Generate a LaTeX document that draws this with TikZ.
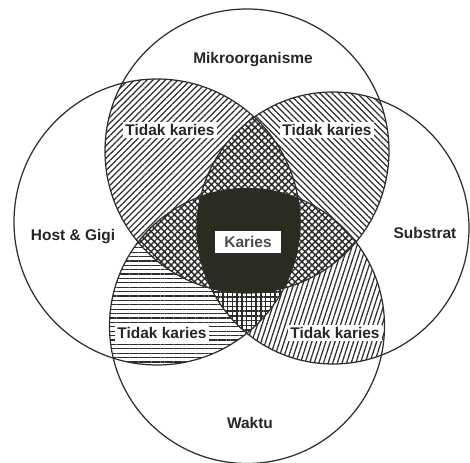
\documentclass[tikz,border=0pt]{standalone}
\usepackage{fontspec}
\setmainfont{Liberation Sans}
\usetikzlibrary{patterns.meta}
\definecolor{inkline}{RGB}{45,45,42}
\definecolor{darkcore}{RGB}{42,44,34}

\begin{document}
\begin{tikzpicture}[
  label/.style={font=\fontsize{8.8}{10}\selectfont\bfseries, text=black!85},
  tidak/.style={label, fill=white, inner sep=1.5pt},
  rim/.style={draw=inkline, line width=0.7pt},
  lines/.style={pattern={Lines[angle=#1,distance=2.5pt,line width=0.7pt]}, pattern color=inkline},
  hatch/.style={pattern={Hatch[angle=#1,distance=2.7pt,line width=0.85pt]}, pattern color=inkline}
]
\useasboundingbox (0,0) rectangle (9.4,9.26);
\coordinate (T) at (4.94,6.24);
\coordinate (B) at (4.94,2.74);
\coordinate (L) at (3.14,4.82);
\coordinate (R) at (6.66,4.70);
\def\rT{2.84} \def\rB{2.75} \def\rL{2.86} \def\rR{2.72}

% two circles
\begin{scope}\clip (T) circle (\rT); \fill[lines=45] (L) circle (\rL); \end{scope}
\begin{scope}\clip (T) circle (\rT); \fill[lines=-45] (R) circle (\rR); \end{scope}
\begin{scope}\clip (B) circle (\rB); \fill[lines=0] (L) circle (\rL); \end{scope}
\begin{scope}\clip (B) circle (\rB); \fill[lines=72] (R) circle (\rR); \end{scope}

% three circles
\begin{scope}\clip (T) circle (\rT); \clip (L) circle (\rL);
 \fill[white] (R) circle (\rR); \fill[hatch=45] (R) circle (\rR); \end{scope}
\begin{scope}\clip (T) circle (\rT); \clip (L) circle (\rL);
 \fill[white] (B) circle (\rB); \fill[hatch=45] (B) circle (\rB); \end{scope}
\begin{scope}\clip (T) circle (\rT); \clip (R) circle (\rR);
 \fill[white] (B) circle (\rB); \fill[hatch=45] (B) circle (\rB); \end{scope}
\begin{scope}\clip (L) circle (\rL); \clip (R) circle (\rR);
 \fill[white] (B) circle (\rB); \fill[hatch=0] (B) circle (\rB); \end{scope}

% all four
\begin{scope}\clip (T) circle (\rT); \clip (L) circle (\rL); \clip (R) circle (\rR);
 \fill[darkcore] (B) circle (\rB); \end{scope}

\foreach \c/\r in {T/\rT, B/\rB, L/\rL, R/\rR}
 \draw[rim] (\c) circle (\r);

\node[label] (mikro) at (5.06,8.06) {Mikroorganisme};
\node[label] (host) at (1.46,4.52) {Host \& Gigi};
\node[label] (substrat) at (8.50,4.60) {Substrat};
\node[label] (waktu) at (5.00,0.80) {Waktu};
\node[tidak] (tkul) at (3.40,6.66) {Tidak karies};
\node[tidak] (tkur) at (6.54,6.66) {Tidak karies};
\node[tidak] (tkll) at (3.24,2.60) {Tidak karies};
\node[tidak] (tklr) at (6.70,2.60) {Tidak karies};
\node[label, fill=white, draw=inkline, line width=0.6pt, text=black!70,
  minimum width=1.34cm, minimum height=0.42cm] (karies) at (4.96,4.42) {Karies};
\end{tikzpicture}
\end{document}
